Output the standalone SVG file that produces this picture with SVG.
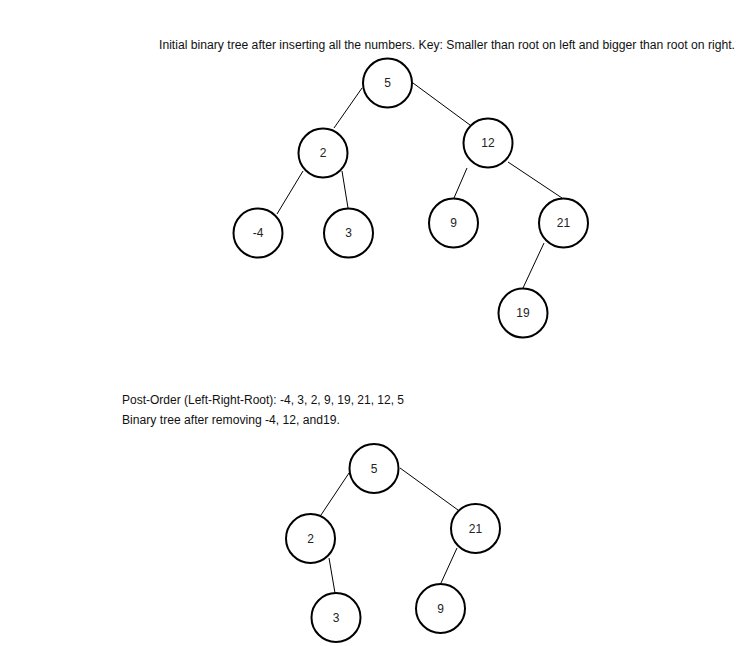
<svg xmlns="http://www.w3.org/2000/svg" width="748" height="646" viewBox="0 0 748 646">
<style>
.n circle{fill:#fff;stroke:#000;stroke-width:2}
.n text{font-family:"Liberation Sans",Arial,sans-serif;font-size:12px;fill:#222;text-anchor:middle;dominant-baseline:central}
.lbl{font-family:"Liberation Sans",Arial,sans-serif;font-size:12px;fill:#111}
#edges line{stroke:#000;stroke-width:1}
</style>
<rect width="748" height="646" fill="#fff"/>
<text class="lbl" x="159" y="49" textLength="576" lengthAdjust="spacingAndGlyphs">Initial binary tree after inserting all the numbers. Key: Smaller than root on left and bigger than root on right.</text>
<text class="lbl" x="122" y="404" textLength="282" lengthAdjust="spacingAndGlyphs">Post-Order (Left-Right-Root): -4, 3, 2, 9, 19, 21, 12, 5</text>
<text class="lbl" x="122" y="424" textLength="218" lengthAdjust="spacingAndGlyphs">Binary tree after removing -4, 12, and19.</text>
<g id="edges">
<line x1="362" y1="88" x2="334" y2="128"/>
<line x1="413" y1="83" x2="470" y2="125"/>
<line x1="303" y1="171" x2="277" y2="214"/>
<line x1="342" y1="171" x2="348" y2="208"/>
<line x1="467" y1="168" x2="454" y2="198"/>
<line x1="508" y1="162" x2="562" y2="198"/>
<line x1="544" y1="243" x2="523" y2="288"/>
<line x1="349" y1="473" x2="321" y2="515"/>
<line x1="400" y1="468" x2="458" y2="510"/>
<line x1="329" y1="558" x2="335" y2="593"/>
<line x1="457" y1="548" x2="441" y2="583"/>
</g>
<g id="t1-5" class="n"><circle cx="387.5" cy="83" r="24.5"/><text x="387.5" y="83">5</text></g>
<g id="t1-2" class="n"><circle cx="323" cy="153" r="24.5"/><text x="323" y="153">2</text></g>
<g id="t1-12" class="n"><circle cx="488" cy="143" r="24.5"/><text x="488" y="143">12</text></g>
<g id="t1-m4" class="n"><circle cx="258" cy="233" r="24.5"/><text x="258" y="233">-4</text></g>
<g id="t1-3" class="n"><circle cx="348.5" cy="233" r="24.5"/><text x="348.5" y="233">3</text></g>
<g id="t1-9" class="n"><circle cx="453.5" cy="223" r="24.5"/><text x="453.5" y="223">9</text></g>
<g id="t1-21" class="n"><circle cx="563.5" cy="223" r="24.5"/><text x="563.5" y="223">21</text></g>
<g id="t1-19" class="n"><circle cx="523" cy="313" r="24.5"/><text x="523" y="313">19</text></g>
<g id="t2-5" class="n"><circle cx="374" cy="468.5" r="24.5"/><text x="374" y="468.5">5</text></g>
<g id="t2-2" class="n"><circle cx="310.5" cy="538.5" r="24.5"/><text x="310.5" y="538.5">2</text></g>
<g id="t2-21" class="n"><circle cx="475.5" cy="528.5" r="24.5"/><text x="475.5" y="528.5">21</text></g>
<g id="t2-3" class="n"><circle cx="336" cy="617.5" r="24.5"/><text x="336" y="617.5">3</text></g>
<g id="t2-9" class="n"><circle cx="440.5" cy="608.5" r="24.5"/><text x="440.5" y="608.5">9</text></g>
</svg>
